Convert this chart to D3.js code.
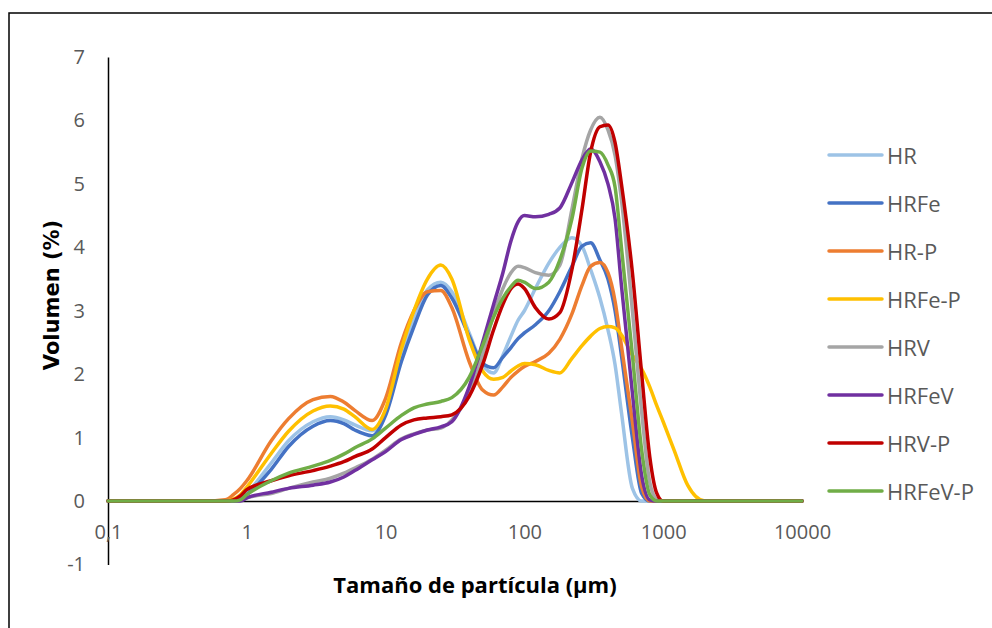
<!DOCTYPE html>
<html>
<head>
<meta charset="utf-8">
<script src="https://cdn.jsdelivr.net/npm/d3@7"></script>
<style>
  html, body { margin: 0; padding: 0; background: #fff; }
  svg { display: block; }
</style>
</head>
<body>
<div id="chart"></div>
<script>
// particle size classes (µm), shared by every series
const sizes = [0.1, 0.5, 0.7, 0.8, 0.9, 1, 1.5, 2, 3, 4, 5, 6, 8, 10, 13, 16, 20, 25, 30, 40,
  50, 60, 70, 80, 90, 100, 120, 150, 180, 220, 260, 300, 350, 400, 450, 500, 600, 700, 800, 900,
  1000, 1200, 1500, 2000, 3000, 10000];

// volume (%) per size class
const HR      = [0,0,0,0.01,0.05,0.13,0.6,0.95,1.25,1.33,1.28,1.2,1.11,1.42,2.3,2.85,3.33,3.45,3.3,2.65,2.15,2.02,2.3,2.6,2.85,3.0,3.35,3.75,4.0,4.15,4.02,3.65,3.2,2.7,2.15,1.4,0.2,0,0,0,0,0,0,0,0,0];
const HRFe    = [0,0,0,0,0.03,0.1,0.5,0.86,1.18,1.27,1.22,1.12,1.03,1.35,2.2,2.75,3.25,3.4,3.2,2.6,2.17,2.1,2.27,2.42,2.56,2.65,2.78,3.0,3.3,3.7,4.02,4.07,3.8,3.5,3.0,2.3,1.0,0.12,0,0,0,0,0,0,0,0];
const HR_P    = [0,0,0.02,0.1,0.2,0.32,0.95,1.3,1.6,1.65,1.56,1.43,1.27,1.62,2.5,3.0,3.3,3.32,3.05,2.2,1.75,1.67,1.8,1.95,2.05,2.12,2.2,2.33,2.55,2.95,3.4,3.7,3.76,3.6,3.15,2.45,1.25,0.22,0,0,0,0,0,0,0,0];
const HRFe_P  = [0,0,0,0.03,0.1,0.22,0.75,1.1,1.42,1.5,1.45,1.33,1.13,1.45,2.4,3.0,3.5,3.72,3.5,2.55,2.05,1.92,1.95,2.05,2.13,2.17,2.15,2.06,2.02,2.25,2.45,2.6,2.72,2.75,2.73,2.62,2.3,2.08,1.8,1.5,1.25,0.8,0.25,0,0,0];
const HRV     = [0,0,0,0,0.01,0.05,0.12,0.2,0.3,0.36,0.44,0.52,0.66,0.8,0.98,1.06,1.12,1.15,1.28,1.7,2.3,2.95,3.35,3.6,3.7,3.68,3.6,3.56,3.72,4.6,5.4,5.85,6.05,5.85,5.45,4.75,3.0,1.4,0.3,0.03,0,0,0,0,0,0];
const HRFeV   = [0,0,0,0,0,0.05,0.14,0.2,0.25,0.3,0.38,0.48,0.65,0.78,0.97,1.05,1.12,1.17,1.25,1.8,2.5,3.1,3.6,4.1,4.4,4.5,4.48,4.52,4.62,5.02,5.38,5.55,5.35,5.0,4.45,3.4,1.7,0.4,0.02,0,0,0,0,0,0,0];
const HRV_P   = [0,0,0,0.02,0.08,0.18,0.32,0.4,0.48,0.55,0.62,0.7,0.82,1.0,1.2,1.28,1.31,1.33,1.36,1.65,2.15,2.7,3.1,3.35,3.42,3.35,3.05,2.87,2.97,3.65,4.6,5.5,5.9,5.93,5.65,5.0,3.6,2.0,0.7,0.12,0,0,0,0,0,0];
const HRFeV_P = [0,0,0,0,0.02,0.1,0.32,0.44,0.55,0.64,0.74,0.84,0.98,1.15,1.35,1.47,1.53,1.57,1.63,1.95,2.45,2.9,3.2,3.38,3.48,3.45,3.35,3.45,3.8,4.45,5.25,5.52,5.5,5.3,4.95,4.0,2.3,0.8,0.1,0,0,0,0,0,0,0];

const seriesNames  = ['HR', 'HRFe', 'HR-P', 'HRFe-P', 'HRV', 'HRFeV', 'HRV-P', 'HRFeV-P'];
const seriesValues = [HR, HRFe, HR_P, HRFe_P, HRV, HRFeV, HRV_P, HRFeV_P];
const seriesColors = ['#9dc3e6', '#4472c4', '#ed7d31', '#ffc000', '#a5a5a5', '#7030a0', '#c00000', '#70ad47'];

const xTicks = [0.1, 1, 10, 100, 1000, 10000];
const yTicks = [-1, 0, 1, 2, 3, 4, 5, 6, 7];

const W = 992, H = 628;
const svg = d3.select('#chart').append('svg').attr('width', W).attr('height', H);

// chart frame (right/bottom edges fall outside the picture)
svg.append('rect').attr('x', 9).attr('y', 13).attr('width', 1100).attr('height', 800)
  .attr('fill', 'none').attr('stroke', '#000').attr('stroke-width', 1.5);

const x = d3.scaleLog().domain([0.1, 10000]).range([108, 802]);
const y = d3.scaleLinear().domain([-1, 7]).range([564.5, 57]);

const es = d3.formatLocale({ decimal: ',', thousands: '.', grouping: [3], currency: ['', '€'], minus: '-' });
const fmtX = es.format('~g');
const fmtY = es.format('d');

const tickFont = '"Open Sans", sans-serif';

// y axis
const gy = svg.append('g').attr('transform', `translate(${x(0.1)},0)`)
  .call(d3.axisLeft(y).tickValues(yTicks).tickFormat(fmtY).tickSizeInner(0).tickSizeOuter(0).tickPadding(23));
gy.select('.domain').attr('stroke', '#000').attr('stroke-width', 1.5);
gy.selectAll('text').attr('font-family', tickFont).attr('font-size', 20).attr('fill', '#595959');

// x axis sits at y = 0
const gx = svg.append('g').attr('transform', `translate(0,${y(0)})`)
  .call(d3.axisBottom(x).tickValues(xTicks).tickFormat(fmtX).tickSizeInner(0).tickSizeOuter(0).tickPadding(24));
gx.select('.domain').attr('stroke', '#000').attr('stroke-width', 1.5);
gx.selectAll('text').attr('font-family', tickFont).attr('font-size', 20).attr('fill', '#595959');

// lines
const line = d3.line()
  .x((d, i) => x(sizes[i]))
  .y(d => y(d))
  .curve(d3.curveMonotoneX);

svg.append('g').selectAll('path')
  .data(seriesValues)
  .join('path')
  .attr('d', d => line(d))
  .attr('fill', 'none')
  .attr('stroke', (d, i) => seriesColors[i])
  .attr('stroke-width', 3.5)
  .attr('stroke-linejoin', 'round')
  .attr('stroke-linecap', 'round');

// axis titles
svg.append('text')
  .attr('transform', 'translate(52,295) rotate(-90)')
  .attr('text-anchor', 'middle').attr('dominant-baseline', 'central')
  .attr('font-family', '"DejaVu Sans", sans-serif').attr('font-weight', 'bold')
  .attr('font-size', 21).attr('fill', '#000')
  .text('Volumen (%)');

svg.append('text')
  .attr('x', 475).attr('y', 584)
  .attr('text-anchor', 'middle').attr('dominant-baseline', 'central')
  .attr('font-family', '"Open Sans", sans-serif').attr('font-weight', 'bold')
  .attr('font-size', 22).attr('fill', '#000')
  .text('Tamaño de partícula (µm)');

// legend
const legend = svg.append('g').attr('transform', 'translate(829,155)');
seriesNames.forEach((name, i) => {
  const row = legend.append('g').attr('transform', `translate(0,${i * 48})`);
  row.append('line').attr('x1', 0).attr('x2', 53).attr('y1', 0).attr('y2', 0)
    .attr('stroke', seriesColors[i]).attr('stroke-width', 3.5).attr('stroke-linecap', 'round');
  row.append('text').attr('x', 58).attr('y', 0).attr('dominant-baseline', 'central')
    .attr('font-family', tickFont).attr('font-size', 22).attr('fill', '#595959')
    .text(name);
});
</script>
</body>
</html>
